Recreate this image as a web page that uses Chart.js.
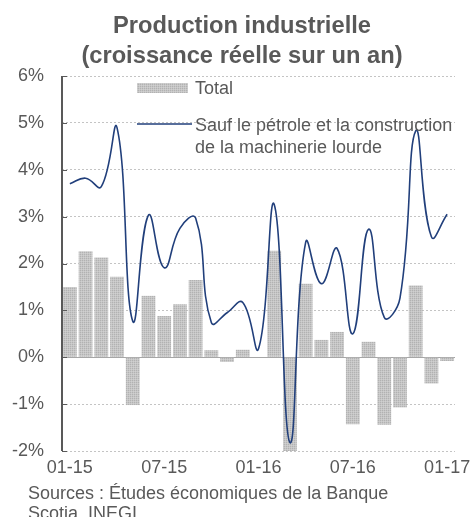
<!DOCTYPE html>
<html>
<head>
<meta charset="utf-8">
<script src="https://cdn.jsdelivr.net/npm/chart.js@4.4.0/dist/chart.umd.min.js"></script>
<style>
  body { margin: 0; background: #fff; overflow: hidden; }
  #wrap { position: relative; width: 474px; height: 517px; }
  #title {
    position: absolute; left: 10px; width: 464px; top: 9.8px; text-align: center;
    font: bold 23.7px 'Liberation Sans', Arial, sans-serif; line-height: 30px; color: #595959;
  }
  #source {
    position: absolute; left: 28px; top: 483px;
    font: 18px 'Liberation Sans', Arial, sans-serif; line-height: 20px; color: #595959;
  }
</style>
</head>
<body>
<div id="wrap">
  <canvas id="chart" width="474" height="517"></canvas>
  <div id="title">Production industrielle<br>(croissance réelle sur un an)</div>
  <div id="source">Sources : Études économiques de la Banque<br>Scotia, INEGI.</div>
</div>
<script>
const months = ['01-15', '02-15', '03-15', '04-15', '05-15', '06-15', '07-15', '08-15', '09-15', '10-15', '11-15', '12-15',
    '01-16', '02-16', '03-16', '04-16', '05-16', '06-16', '07-16', '08-16', '09-16', '10-16', '11-16', '12-16', '01-17'];
const total = [1.50, 2.26, 2.13, 1.72, -1.02, 1.31, 0.88, 1.13, 1.65, 0.15, -0.10, 0.16,
    0.00, 2.27, -2.05, 1.57, 0.37, 0.54, -1.43, 0.33, -1.44, -1.07, 1.53, -0.56, -0.08];
const horsPetrole = [3.70, 3.82, 3.64, 4.90, 0.77, 3.03, 1.91, 2.75, 2.97, 0.74, 0.95, 1.17,
    0.18, 3.26, -1.82, 2.45, 1.57, 2.32, 0.50, 2.73, 0.85, 1.26, 4.83, 2.57, 3.05];
const yTicks = [-2, -1, 0, 1, 2, 3, 4, 5, 6];

const seriesNames = ['Total', 'Sauf le pétrole et la construction', 'de la machinerie lourde'];
const FONT = "'Liberation Sans', Arial, sans-serif";
const TEXT = '#595959';
const LINE = '#213f7b';

function makePattern() {
    const c = document.createElement('canvas');
    c.width = 2; c.height = 2;
    const g = c.getContext('2d');
    g.fillStyle = '#c6c6c6'; g.fillRect(0, 0, 2, 2);
    g.fillStyle = '#b2b2b2'; g.fillRect(0, 0, 1, 1);
    g.fillStyle = '#d0d0d0'; g.fillRect(1, 1, 1, 1);
    return g.createPattern(c, 'repeat');
}
const barFill = makePattern();

// zero line, y axis with inward ticks, legend inside the plot
const extras = {
    id: 'extras',
    beforeDatasetsDraw(chart) {
        const { ctx, chartArea: a, scales: { y } } = chart;
        const y0 = Math.round(y.getPixelForValue(0)) + 0.5;
        ctx.save();
        ctx.strokeStyle = '#a6a6a6';
        ctx.lineWidth = 1;
        ctx.beginPath(); ctx.moveTo(a.left, y0); ctx.lineTo(a.right, y0); ctx.stroke();
        ctx.restore();
    },
    afterDraw(chart) {
        const { ctx, chartArea: a, scales: { y } } = chart;
        ctx.save();
        ctx.strokeStyle = '#595959';
        ctx.lineWidth = 2;
        ctx.beginPath(); ctx.moveTo(a.left, a.top); ctx.lineTo(a.left, a.bottom); ctx.stroke();
        ctx.lineWidth = 1;
        yTicks.forEach(v => {
            const py = Math.round(y.getPixelForValue(v)) + 0.5;
            ctx.beginPath(); ctx.moveTo(a.left, py); ctx.lineTo(a.left + 5, py); ctx.stroke();
        });

        ctx.fillStyle = barFill;
        ctx.fillRect(137, 83, 51, 10);
        ctx.strokeStyle = LINE;
        ctx.lineWidth = 1.6;
        ctx.beginPath(); ctx.moveTo(137, 124); ctx.lineTo(192, 124); ctx.stroke();

        ctx.fillStyle = TEXT;
        ctx.font = '18px ' + FONT;
        ctx.textBaseline = 'alphabetic';
        ctx.fillText(seriesNames[0], 195, 94);
        ctx.fillText(seriesNames[1], 195, 130.5);
        ctx.fillText(seriesNames[2], 195, 152.5);
        ctx.restore();
    }
};

const ctx = document.getElementById('chart').getContext('2d');
new Chart(ctx, {
    type: 'bar',
    data: {
        labels: months,
        datasets: [
            {
                type: 'line',
                label: seriesNames[1],
                data: horsPetrole,
                borderColor: LINE,
                borderWidth: 1.6,
                pointRadius: 0,
                tension: 0.45,
                fill: false,
                order: 0
            },
            {
                label: seriesNames[0],
                data: total,
                backgroundColor: barFill,
                borderWidth: 0,
                categoryPercentage: 1,
                barPercentage: 0.88,
                order: 1
            }
        ]
    },
    options: {
        responsive: false,
        animation: false,
        events: [],
        layout: { padding: { left: 0, right: 19, top: 76, bottom: 36 } },
        plugins: {
            legend: { display: false },
            tooltip: { enabled: false },
            title: { display: false }
        },
        scales: {
            x: {
                grid: { display: false },
                border: { display: false },
                ticks: {
                    autoSkip: false,
                    maxRotation: 0,
                    padding: -2,
                    color: TEXT,
                    font: { family: FONT, size: 18 },
                    callback: (v, i) => (i % 6 === 0 ? months[i] : '')
                },
                afterFit: s => { s.height = 30; }
            },
            y: {
                min: -2,
                max: 6,
                ticks: {
                    stepSize: 1,
                    padding: 18,
                    color: TEXT,
                    font: { family: FONT, size: 18 },
                    callback: v => v + '%'
                },
                grid: {
                    drawTicks: false,
                    color: c => (c.tick && c.tick.value === 0 ? 'rgba(0,0,0,0)' : '#c4c4c4'),
                    lineWidth: 1
                },
                border: { display: false, dash: [2, 2] },
                afterFit: s => { s.width = 62; }
            }
        }
    },
    plugins: [extras]
});
</script>
</body>
</html>
